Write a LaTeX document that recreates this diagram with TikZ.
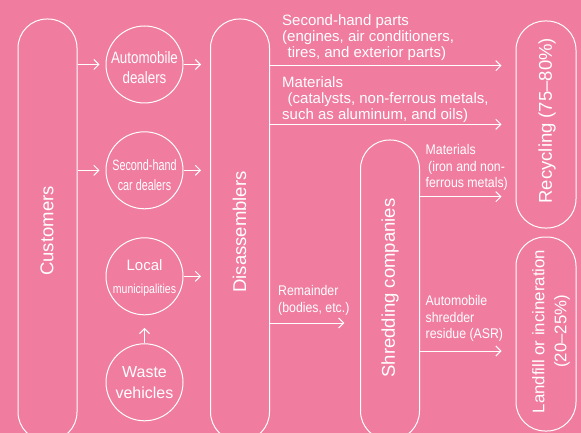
\documentclass[tikz,border=0pt]{standalone}
\usepackage{fontspec}
\setmainfont{Liberation Sans}
\newfontfamily\condA[FakeStretch=0.81]{Liberation Sans}
\newfontfamily\condB[FakeStretch=0.72]{Liberation Sans}
\newfontfamily\condC[FakeStretch=0.88]{Liberation Sans}
\usetikzlibrary{arrows.meta,calc}
\definecolor{bgpink}{RGB}{240,124,160}
\begin{document}
\begin{tikzpicture}[x=1pt,y=-1pt,
  pill/.style={draw=white,line width=1pt,rounded corners=29pt,inner sep=0pt},
  disc/.style={draw=white,line width=1pt,circle,minimum size=77pt,inner sep=0pt},
  big/.style={text=white,rotate=90,inner sep=0pt,font=\fontsize{18.5}{21}\selectfont},
  ctext/.style={text=white,align=center,inner sep=0pt},
  flow/.style={text=white,align=left,inner sep=0pt,anchor=north west},
  arr/.style={draw=white,line width=1pt,-{Straight Barb[length=5pt,width=10pt]}}]
\fill[bgpink] (0,0) rectangle (581,433);
\useasboundingbox (0,0) rectangle (581,433);
\clip (0,0) rectangle (581,433);

% pills
\node[pill,minimum width=59pt,minimum height=422pt] (cust) at (47.5,230) {};
\node[pill,minimum width=59pt,minimum height=422pt] (dis) at (240,230) {};
\node[pill,minimum width=59pt,minimum height=300pt] (shred) at (390,290) {};
\node[pill,minimum width=60pt,minimum height=207pt] (recy) at (546,124.5) {};
\node[pill,minimum width=60pt,minimum height=194pt] (land) at (546,334) {};

\node[big] (custt) at (47,231) {Customers};
\node[big] (dist) at (239.5,232) {Disassemblers};
\node[big] (shredt) at (390,288) {Shredding companies};
\node[big] (recyt) at (547,120.7) {Recycling (75–80\%)};
\node[big,align=center,font=\fontsize{16.8}{22}\selectfont] (landt) at (551,331.5) {Landfill or incineration\\(20–25\%)};

% circles
\node[disc] (auto) at (144.5,64.5) {};
\node[disc] (sec) at (144.5,170.3) {};
\node[disc] (local) at (144.5,276.3) {};
\node[disc] (waste) at (144.5,382.3) {};

\node[ctext,font=\condA\fontsize{16.5}{20.6}\selectfont] (autot) at (144.5,67.5) {Automobile\\dealers};
\node[ctext,font=\condB\fontsize{15}{20.7}\selectfont] (sect) at (144.5,175) {Second-hand\\car dealers};
\node[ctext,font=\fontsize{15}{21}\selectfont] (localt) at (144.5,277.5) {Local\\[2pt]{\condA\fontsize{13}{21}\selectfont municipalities}};
\node[ctext,font=\fontsize{16}{20.6}\selectfont] (wastet) at (144.5,382.5) {Waste\\vehicles};

% arrows customers -> dealers
\draw[arr] (cust.east |- auto) -- ([xshift=-6pt]auto.west);
\draw[arr] (cust.east |- sec) -- ([xshift=-6pt]sec.west);
% dealers -> disassemblers
\draw[arr] (auto.east) -- ([xshift=-9pt]dis.west |- auto);
\draw[arr] (sec.east) -- ([xshift=-9pt]dis.west |- sec);
\draw[arr] (local.east) -- ([xshift=-9pt]dis.west |- local);
% waste -> local
\draw[arr] (waste.north) -- ([yshift=-12.6pt]local.south);

% disassemblers -> recycling
\coordinate (ya) at (0,65.7);
\coordinate (yb) at (0,124.3);
\coordinate (yc) at (0,196.7);
\coordinate (yd) at (0,351);
\coordinate (ye) at (0,323);
\draw[arr] (dis.east |- ya) -- ([xshift=-14pt]recy.west |- ya);
\draw[arr] (dis.east |- yb) -- ([xshift=-14pt]recy.west |- yb);
\draw[arr] (shred.east |- yc) -- ([xshift=-14pt]recy.west |- yc);
\draw[arr] (shred.east |- yd) -- ([xshift=-14pt]land.west |- yd);
\draw[arr] (dis.east |- ye) -- ([xshift=-15.7pt]shred.west |- ye);

% flow labels
\node[flow,font=\fontsize{15}{16}\selectfont] (l1) at (282,14.5) {Second-hand parts\\(engines, air conditioners,\\\hspace*{5.5pt}tires, and exterior parts)};
\node[flow,font=\fontsize{15}{16}\selectfont] (l2) at (282,76.5) {Materials\\\hspace*{5.5pt}(catalysts, non-ferrous metals,\\such as aluminum, and oils)};
\node[flow,font=\condC\fontsize{14}{16.3}\selectfont] (l3) at (425.5,144.5) {Materials\\\hspace*{2.5pt}(iron and non-\\ferrous metals)};
\node[flow,font=\condC\fontsize{14}{16.3}\selectfont] (l4) at (278,285.5) {Remainder\\(bodies, etc.)};
\node[flow,font=\condC\fontsize{14}{16.3}\selectfont] (l5) at (425.5,295.5) {Automobile\\shredder\\residue (ASR)};
\end{tikzpicture}
\end{document}
